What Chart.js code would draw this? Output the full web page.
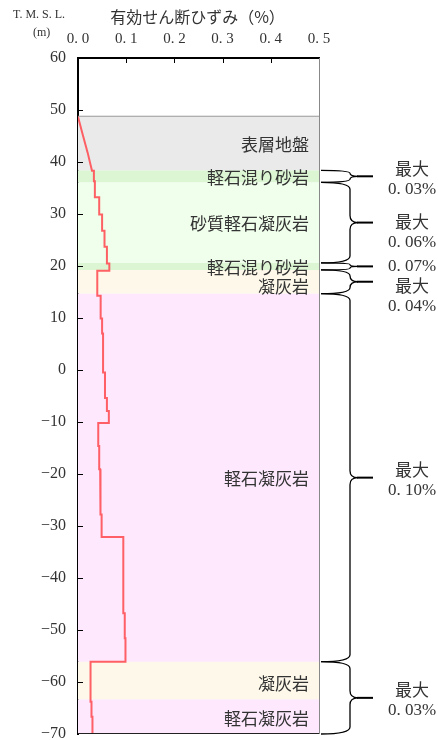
<!DOCTYPE html>
<html>
<head>
<meta charset="utf-8">
<script src="https://cdn.jsdelivr.net/npm/chart.js@4"></script>
<style>
  html, body { margin: 0; padding: 0; background: #fff; }
  canvas { display: block; }
</style>
</head>
<body>
<canvas id="strainChart" width="438" height="740"></canvas>
<script>
// soil layers (T.M.S.L. m)
const layerNames  = ["表層地盤", "軽石混り砂岩", "砂質軽石凝灰岩", "軽石混り砂岩", "凝灰岩", "軽石凝灰岩", "凝灰岩", "軽石凝灰岩"];
const layerTop    = [48.8, 38.4, 36.1, 20.6, 19.25, 14.7, -56.1, -63.3];
const layerBottom = [38.4, 36.1, 20.6, 19.25, 14.7, -56.1, -63.3, -70];
const layerColors = ["#eaeaea", "#dcf6d4", "#f0ffec", "#dcf6d4", "#fef8ea", "#fde8fd", "#fef8ea", "#fde8fd"];
const layerLabelShift = [0, 0, 0, 0, 4, 0, 2, 1];

// effective shear strain profile (%)
const surfaceStrain = [0.000, 0.010, 0.020, 0.029];
const surfaceElev   = [48.7, 45.2, 41.8, 38.3];
const stepStrain = [0.033, 0.035, 0.044, 0.050, 0.055, 0.060, 0.065, 0.040, 0.047, 0.050, 0.052, 0.056, 0.060, 0.064,
                    0.042, 0.044, 0.046, 0.047, 0.049, 0.094, 0.097, 0.0985, 0.026, 0.028, 0.030];
const stepBottom = [36.3, 33.2, 29.9, 26.8, 23.7, 20.5, 19.1, 14.3, 9.9, 7.0, -0.5, -5.4, -7.9, -10.2,
                    -14.6, -19.1, -23.3, -27.8, -32.1, -46.8, -51.6, -56.1, -63.8, -66.7, -70];

// max strain per group
const braceTop    = [38.4, 36.1, 20.6, 19.25, 14.7, -56.1];
const braceBottom = [36.1, 20.6, 19.25, 14.7, -56.1, -70];
const braceLines  = [["最大", "0. 03%"], ["最大", "0. 06%"], ["0. 07%"], ["最大", "0. 04%"], ["最大", "0. 10%"], ["最大", "0. 03%"]];
const braceTextShift = [0, 7, 0, 12, 0, 0];

const strainTicks = [0, 0.1, 0.2, 0.3, 0.4, 0.5];

const serif = "'Liberation Serif', 'DejaVu Serif', serif";
const jp = "'Noto Sans CJK JP', sans-serif";

const profile = surfaceStrain.map((s, i) => ({ x: s, y: surfaceElev[i] }));
let segTop = surfaceElev[surfaceElev.length - 1];
stepStrain.forEach((s, i) => {
  profile.push({ x: s, y: segTop });
  profile.push({ x: s, y: stepBottom[i] });
  segTop = stepBottom[i];
});

const layerSets = layerNames.map((name, i) => ({
  label: name,
  data: [{ x: 0, y: layerTop[i] }, { x: 0.5, y: layerTop[i] }],
  showLine: true,
  fill: { value: layerBottom[i] },
  backgroundColor: layerColors[i],
  borderColor: i === 0 ? "#999" : "rgba(0,0,0,0)",
  borderWidth: i === 0 ? 1 : 0,
  pointRadius: 0,
  order: 2
}));

function drawBrace(ctx, x0, xm, xt, y1, y2) {
  const ym = (y1 + y2) / 2;
  const r = Math.min(7, (y2 - y1) / 4);
  ctx.beginPath();
  ctx.moveTo(x0, y1);
  ctx.quadraticCurveTo(xm, y1, xm, y1 + r);
  ctx.lineTo(xm, ym - r);
  ctx.quadraticCurveTo(xm, ym, xm + 8, ym);
  ctx.quadraticCurveTo(xm, ym, xm, ym + r);
  ctx.lineTo(xm, y2 - r);
  ctx.quadraticCurveTo(xm, y2, x0, y2);
  ctx.lineWidth = 1.3;
  ctx.strokeStyle = "#000";
  ctx.stroke();
  ctx.beginPath();
  ctx.moveTo(xm + 7, ym);
  ctx.lineTo(xt, ym);
  ctx.lineWidth = 2;
  ctx.stroke();
  return ym;
}

const decor = {
  id: "decor",
  afterDraw(chart) {
    const { ctx, chartArea: a, scales: { x, y } } = chart;
    ctx.save();
    // frame right and bottom
    ctx.strokeStyle = "#888";
    ctx.lineWidth = 1;
    ctx.beginPath();
    ctx.moveTo(a.right + 0.5, a.top);
    ctx.lineTo(a.right + 0.5, a.bottom);
    ctx.stroke();
    ctx.strokeStyle = "#222";
    ctx.beginPath();
    ctx.moveTo(a.left, a.bottom - 0.5);
    ctx.lineTo(a.right, a.bottom - 0.5);
    ctx.stroke();
    // inner ticks
    ctx.strokeStyle = "#000";
    ctx.lineWidth = 1;
    ctx.beginPath();
    for (let v = -60; v <= 50; v += 10) {
      const py = Math.round(y.getPixelForValue(v)) + 0.5;
      ctx.moveTo(a.left, py);
      ctx.lineTo(a.left + 5, py);
    }
    strainTicks.slice(1, -1).forEach(v => {
      const px = Math.round(x.getPixelForValue(v)) + 0.5;
      ctx.moveTo(px, a.top);
      ctx.lineTo(px, a.top + 5);
    });
    ctx.stroke();

    // layer names
    ctx.fillStyle = "#333";
    ctx.font = "17px " + jp;
    ctx.textAlign = "right";
    ctx.textBaseline = "middle";
    layerNames.forEach((n, i) => {
      const py = (y.getPixelForValue(layerTop[i]) + y.getPixelForValue(layerBottom[i])) / 2;
      ctx.fillText(n, a.right - 10, py + 1 + layerLabelShift[i]);
    });

    // braces and max values
    braceTop.forEach((t, i) => {
      const ym = drawBrace(ctx, a.right + 2, a.right + 31, a.right + 54,
        y.getPixelForValue(t), y.getPixelForValue(braceBottom[i]));
      const ty = ym + braceTextShift[i];
      const lines = braceLines[i];
      ctx.textAlign = "center";
      ctx.fillStyle = "#333";
      if (lines.length === 1) {
        ctx.font = "17px " + serif;
        ctx.fillText(lines[0], 412, ty);
      } else {
        ctx.font = "17px " + jp;
        ctx.fillText(lines[0], 412, ty - 8);
        ctx.font = "17px " + serif;
        ctx.fillText(lines[1], 412, ty + 13);
      }
    });

    // titles
    ctx.fillStyle = "#333";
    ctx.textAlign = "center";
    ctx.font = "16px " + jp;
    ctx.fillText("有効せん断ひずみ（%）", (a.left + a.right) / 2 - 1, 17);
    ctx.font = "12px " + serif;
    ctx.textAlign = "left";
    ctx.fillText("T. M. S. L.", 13, 15);
    ctx.fillText("(m)", 33, 33);
    ctx.restore();
  }
};

new Chart(document.getElementById("strainChart"), {
  type: "scatter",
  data: {
    datasets: [{
      label: "有効せん断ひずみ",
      data: profile,
      showLine: true,
      tension: 0,
      borderColor: "rgba(255,80,85,0.9)",
      borderWidth: 2,
      pointRadius: 0,
      fill: false,
      order: 1
    }, ...layerSets]
  },
  options: {
    responsive: false,
    devicePixelRatio: 1,
    animation: false,
    layout: { padding: { top: 0, left: 0, right: 119, bottom: 6 } },
    plugins: { legend: { display: false }, tooltip: { enabled: false } },
    scales: {
      x: {
        type: "linear",
        position: "top",
        min: 0, max: 0.5,
        afterBuildTicks: s => { s.ticks = strainTicks.map(v => ({ value: v })); },
        afterFit: s => { s.height = 58; s.paddingLeft = 0; s.paddingRight = 0; },
        grid: { drawOnChartArea: false, drawTicks: false },
        border: { color: "#000", width: 2 },
        ticks: {
          padding: 10,
          color: "#333",
          font: { family: serif, size: 15 },
          maxRotation: 0,
          callback: v => v.toFixed(1).replace(".", ". ")
        }
      },
      y: {
        type: "linear",
        min: -70, max: 60,
        afterFit: s => { s.width = 78; s.paddingTop = 0; s.paddingBottom = 0; },
        grid: { drawOnChartArea: false, drawTicks: false },
        border: { color: "#000", width: 2 },
        ticks: {
          stepSize: 10,
          padding: 12,
          color: "#333",
          font: { family: serif, size: 16 },
          callback: v => (v < 0 ? "−" + Math.abs(v) : String(v))
        }
      }
    }
  },
  plugins: [decor]
});
</script>
</body>
</html>
